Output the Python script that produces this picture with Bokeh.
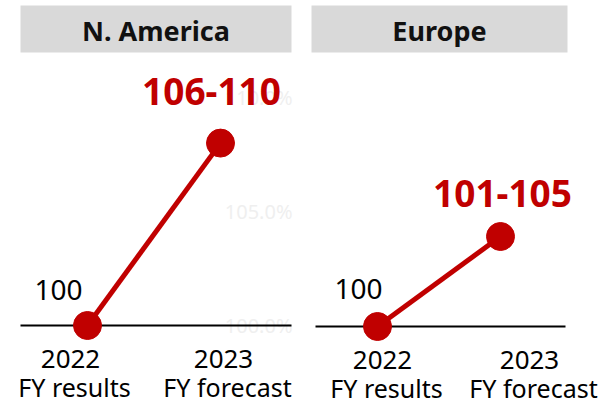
from bokeh.plotting import figure
from bokeh.layouts import row
from bokeh.models import Range1d
from bokeh.embed import file_html
from bokeh.resources import INLINE
from bokeh.core.properties import value

# ---- data ----
regions = ["N. America", "Europe"]
years = ["2022", "2023"]
periods = ["FY results", "FY forecast"]
na_values = [100, 108]
eu_values = [100, 103]
na_labels = ["100", "106-110"]
eu_labels = ["100", "101-105"]
axis_ticks = [100, 105, 110]
axis_tick_labels = ["100.0%", "105.0%", "110.0%"]

RED = "#C00000"
FONT = value("Noto Sans")
H = 403


def make_panel(title, values, labels, width, x0_px, x1_px, y100_px, ppu,
               header_px, base_px, first_off, last_off, year_offs, show_axis):
    unit = x1_px - x0_px
    x_range = Range1d(-x0_px / unit, (width - x0_px) / unit)
    y_range = Range1d(100 - (H - y100_px) / ppu, 100 + y100_px / ppu)

    def px2x(px):
        return (px - x0_px) / unit

    def py2y(py):
        return 100 + (y100_px - py) / ppu

    p = figure(width=width, height=H, x_range=x_range, y_range=y_range,
               toolbar_location=None, output_backend="svg",
               x_axis_type=None, y_axis_type=None,
               min_border=0, min_border_left=0, min_border_right=0,
               min_border_top=0, min_border_bottom=0,
               outline_line_color=None, background_fill_color="white",
               border_fill_color="white")
    p.xgrid.visible = False
    p.ygrid.visible = False

    # header
    hx0, hx1, hy0, hy1 = header_px
    p.quad(left=[px2x(hx0)], right=[px2x(hx1)], top=[py2y(hy0)], bottom=[py2y(hy1)],
           fill_color="#D9D9D9", line_color=None)
    p.text(x=[px2x((hx0 + hx1) / 2)], y=[py2y((hy0 + hy1) / 2 + 1)], text=[title],
           text_align="center", text_baseline="middle", text_font=FONT,
           text_font_size="27px", text_font_style="bold", text_color="#111111")

    # faint axis labels
    if show_axis:
        p.text(x=[px2x(292)] * len(axis_ticks), y=axis_ticks, text=axis_tick_labels,
               text_align="right", text_baseline="middle", text_font=FONT,
               text_font_size="20px", text_color="#EFEFEF")

    # baseline
    bx0, bx1 = base_px
    p.segment(x0=[px2x(bx0)], x1=[px2x(bx1)], y0=[100], y1=[100],
              line_color="black", line_width=2)

    # series
    xs = [0, 1]
    p.line(x=xs, y=values, line_color=RED, line_width=5)
    p.scatter(x=xs, y=values, size=28, fill_color=RED, line_color=RED)

    # value labels
    p.text(x=[0], y=[values[0]], text=[labels[0]], x_offset=first_off[0], y_offset=first_off[1],
           text_align="center", text_baseline="middle", text_font=FONT,
           text_font_size="28px", text_color="black")
    p.text(x=[1], y=[values[1]], text=[labels[1]], x_offset=last_off[0], y_offset=last_off[1],
           text_align="center", text_baseline="middle", text_font=FONT,
           text_font_size="37px", text_font_style="bold", text_color=RED)

    # category labels
    p.text(x=xs, y=[100, 100], text=years, x_offset=[o[0] for o in year_offs],
           y_offset=33, text_align="center", text_baseline="alphabetic",
           text_font=FONT, text_font_size="26px", text_color="black")
    p.text(x=xs, y=[100, 100], text=periods, x_offset=[o[1] for o in year_offs],
           y_offset=61, text_align="center", text_baseline="alphabetic",
           text_font=FONT, text_font_size="25px", text_color="black")
    return p


p1 = make_panel(regions[0], na_values, na_labels, 300, 87, 220, 325, 22.8,
                (20, 291, 5, 52), (20, 291), (-29, -36), (-9, -52),
                [(-17, -13), (3, 7)], True)
p2 = make_panel(regions[1], eu_values, eu_labels, 301, 77, 200, 326, 30.0,
                (11, 267, 5, 52), (15, 265), (-19, -38), (2, -43),
                [(5, 9), (29, 33)], False)

layout = row(p1, p2)
layout.spacing = 0
open("out.html", "w").write(file_html(layout, INLINE))
